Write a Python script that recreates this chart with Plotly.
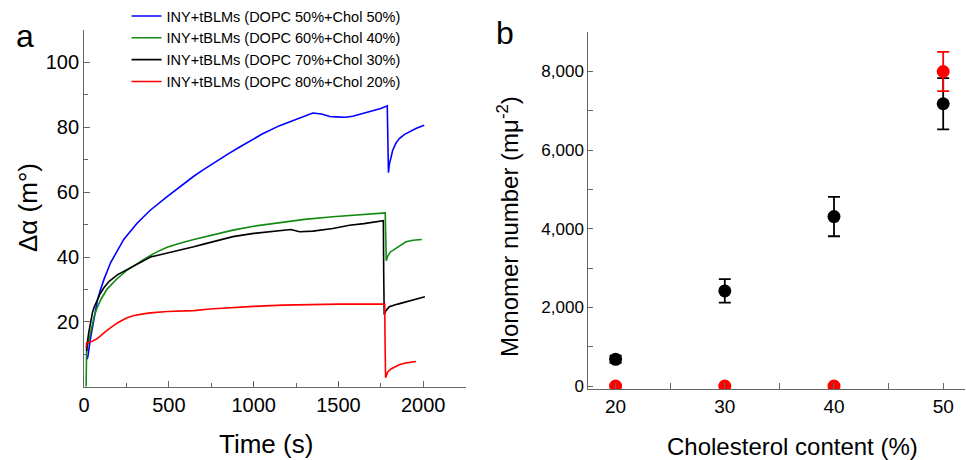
import plotly.graph_objects as go

# panel a: time traces (s, m°)
t_50 = [18, 23, 35, 49, 65, 78, 94, 118, 157, 196, 235, 314, 392, 490, 588, 647, 700, 761,
        850, 918, 957, 1050, 1153, 1250, 1300, 1349, 1400, 1450, 1486, 1540, 1584, 1640,
        1702, 1750, 1788, 1791, 1795, 1800, 1810, 1820, 1840, 1859, 1890, 1918, 1960, 2006]
v_50 = [8.5, 9.5, 14, 18.5, 23, 26.5, 29.5, 33.2, 38.3, 42, 45.5, 50.5, 54.5, 58.6, 62.6,
        64.9, 66.8, 68.9, 71.8, 73.9, 75.1, 77.9, 80.5, 82.5, 83.5, 84.4, 84.1, 83.3, 83.2,
        83.1, 83.4, 84.2, 85.0, 85.8, 86.6, 75, 66, 68.5, 71.3, 72.9, 75.2, 76.5, 77.8, 78.6,
        79.7, 80.6]

t_40 = [12, 13, 15, 20, 29, 40, 49, 60, 78, 100, 137, 196, 250, 294, 350, 392, 430, 490, 560,
        647, 700, 760, 800, 878, 1000, 1173, 1300, 1467, 1600, 1700, 1776, 1779, 1782, 1790,
        1805, 1839, 1870, 1898, 1940, 1992]
v_40 = [0, 6, 10.5, 12.5, 14.5, 17.5, 19.5, 21.8, 24.5, 27, 30.2, 33.4, 35.8, 37.4, 39.2,
        40.5, 41.6, 43.0, 44.2, 45.4, 46.1, 46.8, 47.4, 48.3, 49.5, 50.8, 51.6, 52.4, 53,
        53.3, 53.6, 46, 38.9, 40.2, 41.5, 42.7, 43.8, 44.7, 45.2, 45.4]

t_30 = [14, 16, 20, 27, 39, 50, 60, 78, 95, 118, 150, 196, 255, 294, 350, 392, 430, 490, 560,
        647, 700, 760, 800, 878, 1000, 1100, 1173, 1220, 1271, 1350, 1467, 1520, 1565, 1650,
        1720, 1765, 1767, 1770, 1780, 1800, 1850, 1898, 1950, 2010]
v_30 = [11, 12.5, 13.8, 16.5, 20.6, 23, 24.6, 26.9, 28.7, 30.6, 32.6, 34.5, 36.2, 37.4,
        38.8, 40.0, 40.5, 41.2, 42.1, 43.2, 43.9, 44.7, 45.2, 46.3, 47.3, 47.8, 48.3, 48.5,
        47.8, 48, 48.8, 49.3, 49.8, 50.3, 50.8, 51.2, 35, 22.2, 23.5, 24.7, 25.5, 26.2, 27,
        27.8]

t_20 = [12, 16, 39, 78, 137, 196, 250, 294, 350, 392, 490, 647, 741, 850, 1000, 1173, 1300,
        1500, 1650, 1773, 1775, 1778, 1790, 1810, 1859, 1900, 1957]
v_20 = [12, 13.6, 13.8, 14.9, 17.5, 19.7, 21.2, 22.0, 22.5, 22.8, 23.2, 23.5, 24.0, 24.4,
        24.8, 25.2, 25.4, 25.5, 25.5, 25.5, 14, 2.8, 4.5, 5.5, 6.8, 7.4, 7.8]

# panel b: monomer number vs cholesterol content
chol = [20, 30, 40, 50]
mono_black = [680, 2420, 4310, 7180]
err_black = [90, 300, 500, 650]
mono_red = [0, 0, 0, 8000]
err_red = [0, 0, 0, 500]

FONT = 'Liberation Sans, Arial, sans-serif'
AXIS_GRAY = '#666666'

fig = go.Figure()

traces_a = [
    (t_50, v_50, '#0000ff', 'INY+tBLMs (DOPC 50%+Chol 50%)'),
    (t_40, v_40, '#108a10', 'INY+tBLMs (DOPC 60%+Chol 40%)'),
    (t_30, v_30, '#000000', 'INY+tBLMs (DOPC 70%+Chol 30%)'),
    (t_20, v_20, '#ff0000', 'INY+tBLMs (DOPC 80%+Chol 20%)'),
]
for t, v, color, name in traces_a:
    fig.add_trace(go.Scatter(x=t, y=v, mode='lines', name=name,
                             line=dict(color=color, width=1.6),
                             xaxis='x', yaxis='y'))

fig.add_trace(go.Scatter(x=chol, y=mono_black, mode='markers', showlegend=False,
                         marker=dict(color='black', size=13),
                         error_y=dict(type='data', array=err_black, color='black',
                                      thickness=1.8, width=6),
                         xaxis='x2', yaxis='y2'))
fig.add_trace(go.Scatter(x=chol, y=mono_red, mode='markers', showlegend=False,
                         marker=dict(color='#ff0000', size=13),
                         error_y=dict(type='data', array=err_red, color='#ff0000',
                                      thickness=1.8, width=6),
                         xaxis='x2', yaxis='y2'))

axis_common = dict(showline=True, linecolor=AXIS_GRAY, linewidth=1, ticks='inside',
                   tickcolor=AXIS_GRAY, showgrid=False, zeroline=False, mirror=False,
                   automargin=False, tickfont=dict(family=FONT, size=20, color='black'))

fig.update_layout(
    width=966, height=460,
    margin=dict(l=0, r=0, t=0, b=0, autoexpand=False),
    plot_bgcolor='white', paper_bgcolor='white',
    font=dict(family=FONT, color='black'),
    xaxis=dict(axis_common, domain=[0.087, 0.482], range=[0, 2250],
               tickvals=[0, 500, 1000, 1500, 2000], ticklen=6,
               minor=dict(dtick=250, ticks='inside', ticklen=4, tickcolor=AXIS_GRAY)),
    yaxis=dict(axis_common, domain=[0.159, 0.935], range=[0, 110],
               tickvals=[20, 40, 60, 80, 100], ticklen=6,
               minor=dict(dtick=10, ticks='inside', ticklen=4, tickcolor=AXIS_GRAY)),
    xaxis2=dict(axis_common, domain=[0.609, 0.999], range=[17.5, 52], anchor='y2',
                tickvals=[20, 30, 40, 50], ticklen=6,
                tickfont=dict(family=FONT, size=19, color='black'),
                minor=dict(tickvals=[25, 35, 45], ticks='inside', ticklen=6,
                           tickcolor=AXIS_GRAY)),
    yaxis2=dict(axis_common, domain=[0.154, 0.930], range=[-80, 9000], anchor='x2',
                tickvals=[0, 2000, 4000, 6000, 8000], tickformat=',d', ticklen=5,
                tickfont=dict(family=FONT, size=17, color='black'),
                minor=dict(dtick=1000, ticks='inside', ticklen=5, tickcolor=AXIS_GRAY)),
    legend=dict(x=0.131, y=1.0, xanchor='left', yanchor='top', bgcolor='rgba(0,0,0,0)',
                font=dict(family=FONT, size=14.5, color='black'), tracegroupgap=0,
                itemwidth=30),
    showlegend=True,
)

annotations = [
    dict(text='a', x=25 / 966, y=1 - 36 / 460, font=dict(size=32)),
    dict(text='b', x=505 / 966, y=1 - 33 / 460, font=dict(size=32)),
    dict(text='Δα (m°)', x=28 / 966, y=1 - 208 / 460, textangle=-90, font=dict(size=26)),
    dict(text='Time (s)', x=266 / 966, y=1 - 444 / 460, font=dict(size=26)),
    dict(text='Monomer number (mμ<sup>-2</sup>)', x=508 / 966, y=1 - 226 / 460,
         textangle=-90, font=dict(size=24)),
    dict(text='Cholesterol content (%)', x=792 / 966, y=1 - 446 / 460, font=dict(size=24)),
]
for a in annotations:
    a.update(xref='paper', yref='paper', showarrow=False, xanchor='center', yanchor='middle')
    a['font'] = dict(a['font'], family=FONT, color='black')
fig.update_layout(annotations=annotations)

# the page's default body margin would shift the figure by 8 px
fig.write_html('out.html', config={'displayModeBar': False},
               post_script="document.body.style.margin = '0';")
